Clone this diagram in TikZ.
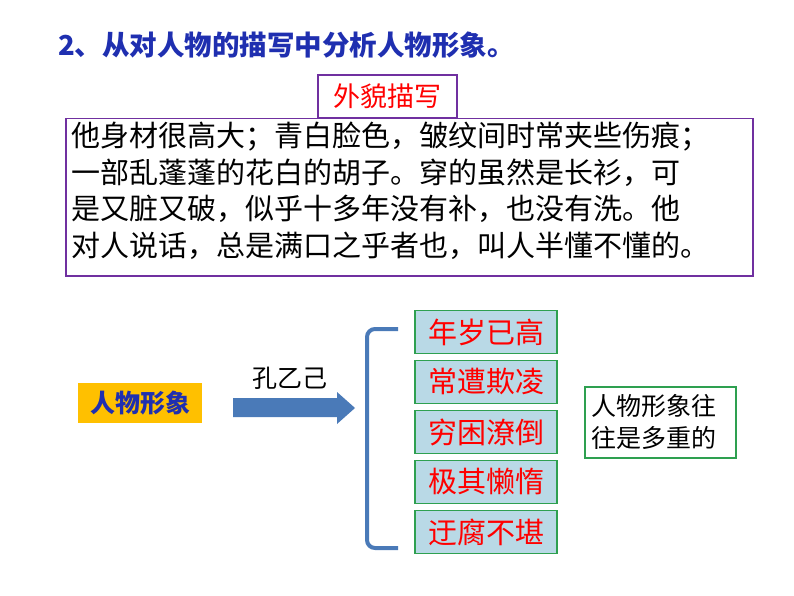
\documentclass[tikz,border=0pt]{standalone}
\usepackage{fontspec}
\newfontfamily\cjk{Noto Sans CJK SC}
\usetikzlibrary{arrows.meta}
\definecolor{ttl}{HTML}{1F2FB0}
\definecolor{pur}{HTML}{7030A0}
\definecolor{grn}{HTML}{2EA050}
\definecolor{lb}{HTML}{B9D9E6}
\definecolor{br}{HTML}{4A7AB8}
\definecolor{org}{HTML}{FFC000}
\tikzset{
  trait/.style={draw=grn,line width=1.2pt,fill=lb,minimum width=142pt,minimum height=43pt,text=red,font=\cjk\fontsize{29}{32}\selectfont,inner sep=0pt},
}
\begin{document}
\begin{tikzpicture}[x=1pt,y=-1pt]
\useasboundingbox (0,0) rectangle (794,596);
\node[anchor=west,text=ttl,font=\cjk\bfseries\fontsize{27.5}{30}\selectfont,inner sep=0pt] (title) at (58,45) {2、从对人物的描写中分析人物形象。};
\node[draw=pur,line width=1.2pt,minimum width=139pt,minimum height=43pt,text=red,font=\cjk\fontsize{27}{30}\selectfont,inner sep=0pt] (wm) at (387.5,96.5) {外貌描写};
\node[draw=pur,line width=1.5pt,minimum width=687pt,minimum height=157pt,anchor=north west,inner sep=0pt] (txt) at (65,118) {};
\node[anchor=north west,align=left,font=\cjk\fontsize{29}{36.5}\selectfont,inner sep=0pt] (body) at (71,122) {他身材很高大；青白脸色，皱纹间时常夹些伤痕；\\一部乱蓬蓬的花白的胡子。穿的虽然是长衫，可\\是又脏又破，似乎十多年没有补，也没有洗。他\\对人说话，总是满口之乎者也，叫人半懂不懂的。};
\node[fill=org,minimum width=124pt,minimum height=40pt,text=ttl,font=\cjk\bfseries\fontsize{25}{28}\selectfont,inner sep=0pt] (rw) at (140,403) {人物形象};
\node[font=\cjk\fontsize{25}{28}\selectfont,inner sep=0pt] (kong) at (290,378) {孔乙己};
\fill[br] (233,398) -- (337,398) -- (337,392) -- (355,408) -- (337,424) -- (337,417) -- (233,417) -- cycle;
\coordinate (bt) at (398,329);
\coordinate (bb) at (398,548);
\draw[br,line width=4pt,rounded corners=8pt] (bt) -- (367,329) -- (367,548) -- (bb);
\node[trait] (t1) at (486,332) {年岁已高};
\node[trait] (t2) at (486,382) {常遭欺凌};
\node[trait] (t3) at (486,432) {穷困潦倒};
\node[trait] (t4) at (486,482) {极其懒惰};
\node[trait] (t5) at (486,532) {迂腐不堪};
\node[draw=grn,line width=1.2pt,minimum width=151pt,minimum height=71pt,inner sep=0pt] (note) at (660.5,422.5) {};
\node[align=left,anchor=west,font=\cjk\fontsize{25}{32}\selectfont,inner sep=0pt] (notet) at (591,422) {人物形象往\\往是多重的};
\end{tikzpicture}
\end{document}
